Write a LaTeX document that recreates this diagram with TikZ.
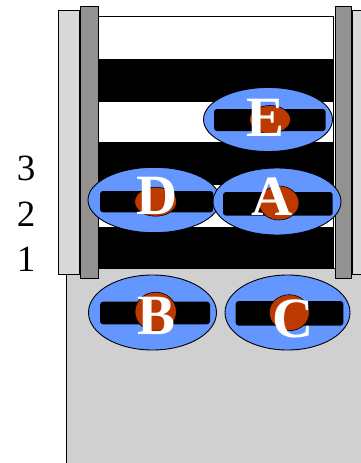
\documentclass[tikz,border=0pt]{standalone}
\usepackage{fontspec}
\setmainfont{Liberation Serif}
\definecolor{chipblue}{RGB}{100,150,255}
\definecolor{chipred}{RGB}{188,58,0}
\definecolor{lightbar}{RGB}{217,217,217}
\definecolor{darkbar}{RGB}{146,146,146}
\definecolor{floorgray}{RGB}{208,208,208}
\tikzset{
  chipbody/.style={draw=black, line width=0.9pt, fill=chipblue},
  chipbar/.style={fill=black, rounded corners=3pt},
  chipdot/.style={draw=black, line width=0.6pt, fill=chipred},
  chipletter/.style={text=white, font=\fontsize{57}{57}\selectfont\bfseries, inner sep=0pt, anchor=base},
  rowlabel/.style={font=\fontsize{37}{37}\selectfont, inner sep=0pt, anchor=base},
  barframe/.style={draw=black, line width=0.9pt}
}
\begin{document}
\begin{tikzpicture}[x=1pt,y=-1pt]
\useasboundingbox (0,0) rectangle (360,463);
% floor region
\fill[floorgray] (66.7,268.3) rectangle (362,465);
\draw[line width=0.8pt] (66.7,465) -- (66.7,268.3) -- (362,268.3);
% striped panel
\draw[barframe, fill=white] (98,16) rectangle (333.3,268.3);
\fill[black] (98,59) rectangle (333.3,102);
\fill[black] (98,142) rectangle (333.3,185);
\fill[black] (98,227) rectangle (333.3,268.3);
% side bars
\draw[barframe, fill=lightbar] (58.5,10.7) rectangle (79.3,274.3);
\draw[barframe, fill=darkbar] (80.7,6.7) rectangle (98.3,278.7);
\draw[barframe, fill=darkbar] (335.3,6.7) rectangle (351.3,278.7);
\draw[barframe, fill=lightbar] (352.7,10.7) rectangle (364,274.3);
% row labels
\node[rowlabel] (l3) at (26,180) {3};
\node[rowlabel] (l2) at (26,226) {2};
\node[rowlabel] (l1) at (26,271) {1};
% chip E
\draw[chipbody] (268,119.5) ellipse [x radius=64.5pt, y radius=32pt];
\fill[chipbar] (214,109) rectangle (325.7,131);
\draw[chipdot] (270,119.5) ellipse [x radius=20.5pt, y radius=14pt];
\node[chipletter] (E) at (266,136.7) {E};
% chip D
\draw[chipbody] (154,200) ellipse [x radius=66pt, y radius=32.7pt];
\fill[chipbar] (100,191) rectangle (213.3,212.3);
\draw[chipdot] (155.7,201.7) ellipse [x radius=21pt, y radius=14.5pt];
\node[chipletter] (D) at (156.7,214.3) {D};
% chip A
\draw[chipbody] (277,201.5) ellipse [x radius=64pt, y radius=33.5pt];
\fill[chipbar] (223,192) rectangle (332.7,215.7);
\draw[chipdot] (279,203) ellipse [x radius=20pt, y radius=17pt];
\node[chipletter] (A) at (271.7,215) {A};
% chip B
\draw[chipbody] (152.5,312.5) ellipse [x radius=64pt, y radius=37.5pt];
\fill[chipbar] (100,301.7) rectangle (210,324.3);
\draw[chipdot] (155.7,311.7) ellipse [x radius=20.7pt, y radius=19.5pt];
\node[chipletter] (B) at (156.3,334) {B};
% chip C
\draw[chipbody] (287.5,312.5) ellipse [x radius=62.5pt, y radius=37.5pt];
\fill[chipbar] (235.7,301) rectangle (343.3,325.7);
\draw[chipdot] (289.3,312.7) ellipse [x radius=20pt, y radius=18pt];
\node[chipletter] (C) at (293,337.5) {C};
\end{tikzpicture}
\end{document}
